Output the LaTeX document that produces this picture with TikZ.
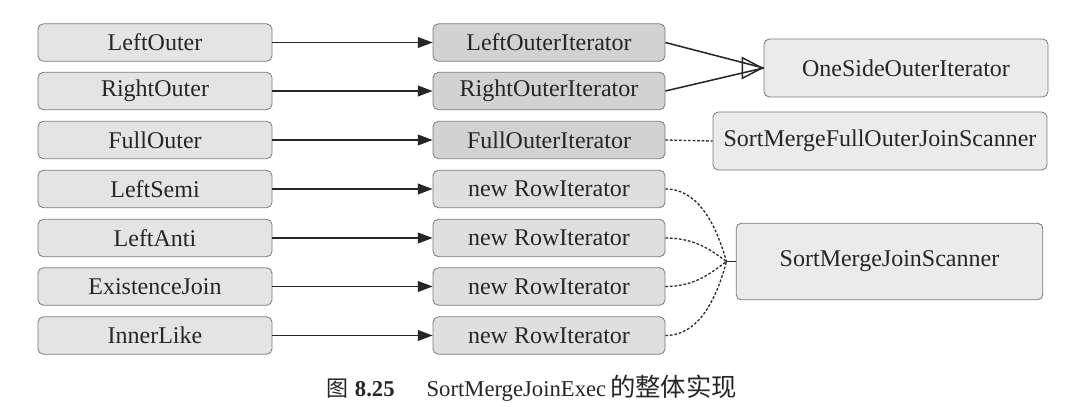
\documentclass[tikz,border=0pt]{standalone}
\usepackage{fontspec}
\setmainfont{Liberation Serif}
\newfontfamily\cjk{Noto Sans CJK SC}
\usetikzlibrary{arrows.meta,calc}
\definecolor{boxline}{HTML}{7A7A7A}
\definecolor{leftfill}{HTML}{E4E4E4}
\definecolor{darkfill}{HTML}{D2D2D2}
\definecolor{midfill}{HTML}{DFDFDF}
\definecolor{rightfill}{HTML}{EBEBEB}
\definecolor{txt}{HTML}{262626}
\begin{document}
\begin{tikzpicture}[x=0.75pt,y=-0.75pt,
  base/.style={draw=boxline, line width=0.6pt, rounded corners=4pt, inner sep=0pt,
    text=txt, font=\fontsize{18}{20}\selectfont},
  leftbox/.style={base, fill=leftfill, minimum width=175.5pt, minimum height=28pt},
  itbox/.style={base, fill=darkfill, minimum width=174pt, minimum height=28pt},
  rowbox/.style={base, fill=midfill, minimum width=174pt, minimum height=28pt},
  scanbox/.style={base, fill=rightfill},
  solidarrow/.style={draw=black!85, line width=1.15pt, -{Triangle[length=11pt,width=8pt]}},
  dotline/.style={draw=black!85, line width=0.95pt, dash pattern=on 2pt off 1.4pt},
  plainline/.style={draw=black!85, line width=1.15pt}]
\useasboundingbox (0,0) rectangle (1075,407);
\fill[white] (0,0) rectangle (1075,407);

% left column
\node[leftbox] (lo) at (155,42.5) {LeftOuter};
\node[leftbox] (ro) at (155,91) {RightOuter};
\node[leftbox] (fo) at (155,140) {FullOuter};
\node[leftbox] (ls) at (155,189) {LeftSemi};
\node[leftbox] (la) at (155,238) {LeftAnti};
\node[leftbox] (ej) at (155,286.5) {ExistenceJoin};
\node[leftbox] (il) at (155,335.5) {InnerLike};

% middle column
\node[itbox] (loi) at (549,42.5) {LeftOuterIterator};
\node[itbox] (roi) at (549,91) {RightOuterIterator};
\node[itbox] (foi) at (549,140) {FullOuterIterator};
\node[rowbox] (r1) at (549,189) {new RowIterator};
\node[rowbox] (r2) at (549,238) {new RowIterator};
\node[rowbox] (r3) at (549,286.5) {new RowIterator};
\node[rowbox] (r4) at (549,335.5) {new RowIterator};

% right column
\node[scanbox, minimum width=213pt, minimum height=43.5pt] (os) at (906,68) {OneSideOuterIterator};
\node[scanbox, minimum width=250.5pt, minimum height=43.5pt] (fs) at (880,141) {SortMergeFullOuterJoinScanner};
\node[scanbox, minimum width=230pt, minimum height=57.5pt] (js) at (889.5,261.5) {SortMergeJoinScanner};

% arrows left -> middle
\foreach \a/\b in {lo/loi, ro/roi, fo/foi, ls/r1, la/r2, ej/r3, il/r4}
  \draw[solidarrow] (\a.east) -- (\b.west);

% to OneSideOuterIterator
\draw[plainline] (loi.east) -- (os.west);
\draw[plainline] (roi.east) -- (os.west);
\coordinate (ostail) at ([xshift=-16.5pt]os.west);
\draw[draw=black!85, line width=1.1pt, -{Triangle[open,length=16.5pt,width=17pt]}] (ostail) -- (os.west);

% dotted to full outer scanner
\draw[dotline] (foi.east) -- (fs.west);

% dotted curves to join scanner
\coordinate (conv) at ([xshift=-7pt]js.west);
\draw[dotline] (r1.east) .. controls +(35,0) and +(-9,-32) .. (conv);
\draw[dotline] (r2.east) .. controls +(30,0) and +(-15,-11) .. (conv);
\draw[dotline] (r3.east) .. controls +(30,0) and +(-15,11) .. (conv);
\draw[dotline] (r4.east) .. controls +(35,0) and +(-9,34) .. (conv);
\draw[plainline, line width=0.8pt] (conv) -- (js.west);

% caption
\node[anchor=base west, inner sep=0pt, text=txt, font=\fontsize{17}{18}\selectfont] (cap) at (326,396)
  {{\cjk\fontsize{16.5}{18}\selectfont 图}\hspace{5pt}\textbf{8.25}\hspace{24pt}SortMergeJoinExec\hspace{3pt}{\cjk\fontsize{19}{18}\selectfont 的整体实现}};
\end{tikzpicture}
\end{document}
